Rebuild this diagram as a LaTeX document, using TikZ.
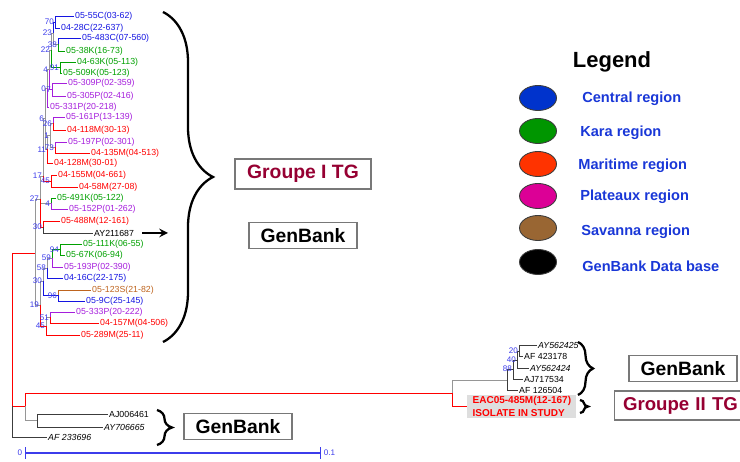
\documentclass[tikz,border=0pt]{standalone}
\usepackage{fontspec}
\setmainfont{Liberation Sans}
\usepackage{tikz}
\usetikzlibrary{positioning,shapes.geometric,decorations.pathreplacing}
\definecolor{cblue}{RGB}{20,20,225}
\definecolor{cgreen}{RGB}{0,160,0}
\definecolor{cred}{RGB}{255,0,0}
\definecolor{cpurple}{RGB}{165,30,220}
\definecolor{cbrown}{RGB}{190,100,30}
\definecolor{cgray}{RGB}{150,150,150}
\definecolor{cdark}{RGB}{60,60,60}
\definecolor{bootblue}{RGB}{60,60,235}
\definecolor{legblue}{RGB}{25,55,215}
\definecolor{grpred}{RGB}{150,0,50}

\begin{document}
\begin{tikzpicture}[x=0.02cm,y=-0.02cm,
  br/.style={line width=0.55pt},
  el/.style={to path={|- (\tikztotarget)}},
  leaf/.style={anchor=west,inner sep=0.5pt,font=\fontsize{5}{6}\selectfont},
  boot/.style={text=bootblue,inner sep=0.4pt,font=\fontsize{4.6}{5}\selectfont},
  tagbox/.style={draw=cgray!80!black,line width=0.6pt,font=\fontsize{11}{12}\selectfont\bfseries,minimum height=0.5cm,minimum width=2.16cm},
  curly/.style={decorate,decoration={brace,amplitude=#1},line width=1.3pt},
  dot/.style={ellipse,draw=cdark,line width=0.5pt,minimum width=0.74cm,minimum height=0.5cm,inner sep=0pt},
  legtext/.style={anchor=west,inner xsep=0pt,text=legblue,font=\fontsize{8.3}{9}\selectfont\bfseries}]
  \useasboundingbox (0,0) rectangle (740,462);

  \coordinate (n70) at (55,22);
  \coordinate (n23) at (53,33);
  \coordinate (n38) at (58,44.5);
  \coordinate (n22) at (51,50);
  \coordinate (n91) at (60,67.5);
  \coordinate (n4) at (49,69.7);
  \coordinate (n7) at (52,89.5);
  \coordinate (n0) at (47,88.4);
  \coordinate (n6) at (45,118.8);
  \coordinate (n26) at (53,123.5);
  \coordinate (n1) at (50,135.5);
  \coordinate (n73) at (55,147.5);
  \coordinate (n11) at (47,149.25);
  \coordinate (n17) at (43,176);
  \coordinate (n45) at (51,181);
  \coordinate (n27) at (40,199);
  \coordinate (n4b) at (51,203.5);
  \coordinate (n30) at (43,227);
  \coordinate (n68) at (35,253);
  \coordinate (n94) at (60,249.5);
  \coordinate (n59) at (52,258);
  \coordinate (n58) at (47,268);
  \coordinate (n30c) at (43,281);
  \coordinate (n96) at (58,295.5);
  \coordinate (n19) at (40,305);
  \coordinate (n51) at (50,317.5);
  \coordinate (n45c) at (46,326);
  \coordinate (root) at (12,406);
  \coordinate (n53) at (25,406);
  \coordinate (n82) at (37,420);
  \coordinate (nII) at (452,393);
  \coordinate (nB) at (507,380);
  \coordinate (nC) at (513,369);
  \coordinate (nD) at (517,360);
  \coordinate (nE) at (519,351);

  \node[leaf,text=cblue] (l1) at (74,16) {05-55C(03-62)};
  \node[leaf,text=cblue] (l2) at (60,28) {04-28C(22-637)};
  \node[leaf,text=cblue] (l3) at (81,38) {05-483C(07-560)};
  \node[leaf,text=cgreen] (l4) at (65,51) {05-38K(16-73)};
  \node[leaf,text=cgreen] (l5) at (76,62) {04-63K(05-113)};
  \node[leaf,text=cgreen] (l6) at (62,73) {05-509K(05-123)};
  \node[leaf,text=cpurple] (l7) at (67,83) {05-309P(02-359)};
  \node[leaf,text=cpurple] (l8) at (66,96) {05-305P(02-416)};
  \node[leaf,text=cpurple] (l9) at (49,107) {05-331P(20-218)};
  \node[leaf,text=cpurple] (l10) at (65,117) {05-161P(13-139)};
  \node[leaf,text=cred] (l11) at (66,130) {04-118M(30-13)};
  \node[leaf,text=cpurple] (l12) at (67,142) {05-197P(02-301)};
  \node[leaf,text=cred] (l13) at (90,153) {04-135M(04-513)};
  \node[leaf,text=cred] (l14) at (53,163) {04-128M(30-01)};
  \node[leaf,text=cred] (l15) at (57,175) {04-155M(04-661)};
  \node[leaf,text=cred] (l16) at (78,187) {04-58M(27-08)};
  \node[leaf,text=cgreen] (l17) at (56,198) {05-491K(05-122)};
  \node[leaf,text=cpurple] (l18) at (68,209) {05-152P(01-262)};
  \node[leaf,text=cred] (l19) at (60,221) {05-488M(12-161)};
  \node[leaf,text=black] (l20) at (93,233) {AY211687};
  \node[leaf,text=cgreen] (l21) at (82,244) {05-111K(06-55)};
  \node[leaf,text=cgreen] (l22) at (65,255) {05-67K(06-94)};
  \node[leaf,text=cpurple] (l23) at (63,267) {05-193P(02-390)};
  \node[leaf,text=cblue] (l24) at (63,278) {04-16C(22-175)};
  \node[leaf,text=cbrown] (l25) at (91,290) {05-123S(21-82)};
  \node[leaf,text=cblue] (l26) at (85,301) {05-9C(25-145)};
  \node[leaf,text=cpurple] (l27) at (75,312) {05-333P(20-222)};
  \node[leaf,text=cred] (l28) at (99,323) {04-157M(04-506)};
  \node[leaf,text=cred] (l29) at (80,335) {05-289M(25-11)};
  \node[leaf,text=black] (l30) at (108,414) {AJ006461};
  \node[leaf,text=black,font=\fontsize{5}{6}\selectfont\itshape] (l31) at (103,427) {AY706665};
  \node[leaf,text=black,font=\fontsize{5}{6}\selectfont\itshape] (l32) at (47,437) {AF 233696};
  \node[leaf,text=black,font=\fontsize{5}{6}\selectfont\itshape] (l33) at (537,345) {AY562425};
  \node[leaf,text=black] (l34) at (523,356) {AF 423178};
  \node[leaf,text=black,font=\fontsize{5}{6}\selectfont\itshape] (l35) at (529,368) {AY562424};
  \node[leaf,text=black] (l36) at (523,379.5) {AJ717534};
  \node[leaf,text=black] (l37) at (518,390) {AF 126504};
  \node[leaf,fill=black!13,text=cred,align=left,inner xsep=3pt,inner ysep=1.2pt,font=\fontsize{5.7}{7}\selectfont\bfseries] (eac) at (467,406.5) {EAC05-485M(12-167)\\ISOLATE IN STUDY};

  \path[br]
    (n70) edge[el,cblue] (l1) edge[el,cblue] (l2)
    (n38) edge[el,cblue] (l3) edge[el,cgreen] (l4)
    (n23) edge[el,cblue] (n70) edge[el,cgray] (n38)
    (n91) edge[el,cgreen] (l5) edge[el,cgreen] (l6)
    (n22) edge[el,cgray] (n23) edge[el,cgreen] (n91)
    (n7) edge[el,cpurple] (l7) edge[el,cpurple] (l8)
    (n4) edge[el,cgray] (n22) edge[el,cpurple] (n7)
    (n0) edge[el,cgray] (n4) edge[el,cpurple] (l9)
    (n26) edge[el,cpurple] (l10) edge[el,cred] (l11)
    (n73) edge[el,cpurple] (l12) edge[el,cred] (l13)
    (n1) edge[el,cgray] (n26) edge[el,cgray] (n73)
    (n11) edge[el,cgray] (n1) edge[el,cred] (l14)
    (n6) edge[el,cgray] (n0) edge[el,cgray] (n11)
    (n45) edge[el,cred] (l15) edge[el,cred] (l16)
    (n17) edge[el,cgray] (n6) edge[el,cred] (n45)
    (n4b) edge[el,cgreen] (l17) edge[el,cpurple] (l18)
    (n30) edge[el,cred] (l19) edge[el,cdark] (l20)
    (n27) edge[el,cgray] (n17) edge[el,cgray] (n4b) edge[el,cred] (n30)
    (n94) edge[el,cgreen] (l21) edge[el,cgreen] (l22)
    (n59) edge[el,cgreen] (n94) edge[el,cpurple] (l23)
    (n58) edge[el,cgray] (n59) edge[el,cblue] (l24)
    (n96) edge[el,cbrown] (l25) edge[el,cblue] (l26)
    (n30c) edge[el,cgray] (n58) edge[el,cblue] (n96)
    (n51) edge[el,cpurple] (l27) edge[el,cred] (l28)
    (n45c) edge[el,cgray] (n51) edge[el,cred] (l29)
    (n19) edge[el,cgray] (n30c) edge[el,cred] (n45c)
    (n68) edge[el,cgray] (n27) edge[el,cgray] (n19)
    (root) edge[el,cred] node[boot,pos=0.75,fill=white] {68} (n68)
           edge[el,cred] node[boot,pos=0.75,fill=white] {53} (n53)
           edge[el,cdark] (l32)
    (n53) edge[el,cred] node[boot,pos=0.75,fill=white] {100} (nII)
          edge[el,cgray] node[boot,pos=0.75,fill=white] {82} (n82)
    (n82) edge[el,cdark] (l30) edge[el,cdark] (l31)
    (nII) edge[el,cgray] node[boot,pos=0.75,fill=white] {100} (nB)
          edge[el,cred] (eac)
    (nB) edge[el,cdark] (nC) edge[el,cdark] (l37)
    (nC) edge[el,cdark] (nD) edge[el,cdark] (l36)
    (nD) edge[el,cdark] (nE) edge[el,cdark] (l35)
    (nE) edge[el,cdark] (l33) edge[el,cdark] (l34);

  \node[boot,left=0pt of n70] (b70) {70};
  \node[boot,left=0pt of n23] (b23) {23};
  \node[boot,left=0pt of n38] (b38) {38};
  \node[boot,left=0pt of n22] (b22) {22};
  \node[boot,left=0pt of n91] (b91) {91};
  \node[boot,left=0pt of n4] (b4) {4};
  \node[boot,left=0pt of n7] (b7) {7};
  \node[boot,left=0pt of n0] (b0) {0};
  \node[boot,left=0pt of n6] (b6) {6};
  \node[boot,left=0pt of n26] (b26) {26};
  \node[boot,left=0pt of n1] (b1) {1};
  \node[boot,left=0pt of n73] (b73) {73};
  \node[boot,left=0pt of n11] (b11) {11};
  \node[boot,left=0pt of n17] (b17) {17};
  \node[boot,left=0pt of n45] (b45) {45};
  \node[boot,left=0pt of n27] (b27) {27};
  \node[boot,left=0pt of n4b] (b4b) {4};
  \node[boot,left=0pt of n30] (b30) {30};
  \node[boot,left=0pt of n94] (b94) {94};
  \node[boot,left=0pt of n59] (b59) {59};
  \node[boot,left=0pt of n58] (b58) {58};
  \node[boot,left=0pt of n30c] (b30c) {30};
  \node[boot,left=0pt of n96] (b96) {96};
  \node[boot,left=0pt of n19] (b19) {19};
  \node[boot,left=0pt of n51] (b51) {51};
  \node[boot,left=0pt of n45c] (b45c) {45};
  \node[boot,left=0pt of nC] (bC) {88};
  \node[boot,left=0pt of nD] (bD) {40};
  \node[boot,left=0pt of nE] (bE) {20};

  \draw[curly=1cm] (163,12) -- (163,342);
  \draw[curly=0.3cm] (157,410) -- (157,445);
  \draw[curly=0.3cm] (578,342) -- (578,395);
  \draw[curly=0.16cm] (580,400) -- (580,413);

  \coordinate (a0) at (142,233);
  \coordinate (a1) at (168,233);
  \draw[-stealth,line width=1.2pt] (a0) -- (a1);

  \node[tagbox,text=grpred,minimum width=2.72cm,minimum height=0.6cm] (grpI) at (303,174) {Groupe I TG};
  \node[tagbox] (gb1) at (303,235.5) {GenBank};
  \node[tagbox] (gb2) at (238,426.5) {GenBank};
  \node[tagbox] (gb3) at (683,368.5) {GenBank};
  \node[tagbox,text=grpred,anchor=west,align=left,text width=2.6cm,inner xsep=0.17cm,minimum height=0.58cm,font=\fontsize{10.6}{12}\selectfont\bfseries] (grpII) at (614,405.5) {Groupe II TG};

  \node[font=\fontsize{12.5}{14}\selectfont\bfseries] (legend) at (612,62) {Legend};
  \node[dot,fill={rgb,255:red,0;green,51;blue,204}] (e1) at (538,98) {};
  \node[dot,fill={rgb,255:red,0;green,150;blue,0}] (e2) at (538,131) {};
  \node[dot,fill={rgb,255:red,255;green,51;blue,0}] (e3) at (538,164) {};
  \node[dot,fill={rgb,255:red,220;green,0;blue,150}] (e4) at (538,196) {};
  \node[dot,fill={rgb,255:red,153;green,102;blue,51}] (e5) at (538,228) {};
  \node[dot,fill=black] (e6) at (538,262) {};
  \node[legtext] (t1) at (582,99) {Central region};
  \node[legtext] (t2) at (580,133) {Kara region};
  \node[legtext] (t3) at (578,166) {Maritime region};
  \node[legtext] (t4) at (580,197) {Plateaux region};
  \node[legtext] (t5) at (581,232) {Savanna region};
  \node[legtext] (t6) at (582,266) {GenBank Data base};

  \coordinate (s0) at (25,453);
  \coordinate (s1) at (321,453);
  \draw[|-|,line width=0.6pt,bootblue] (s0) -- (s1);
  \node[boot,left=1pt of s0] (s0t) {0};
  \node[boot,right=1pt of s1] (s1t) {0.1};
\end{tikzpicture}
\end{document}
